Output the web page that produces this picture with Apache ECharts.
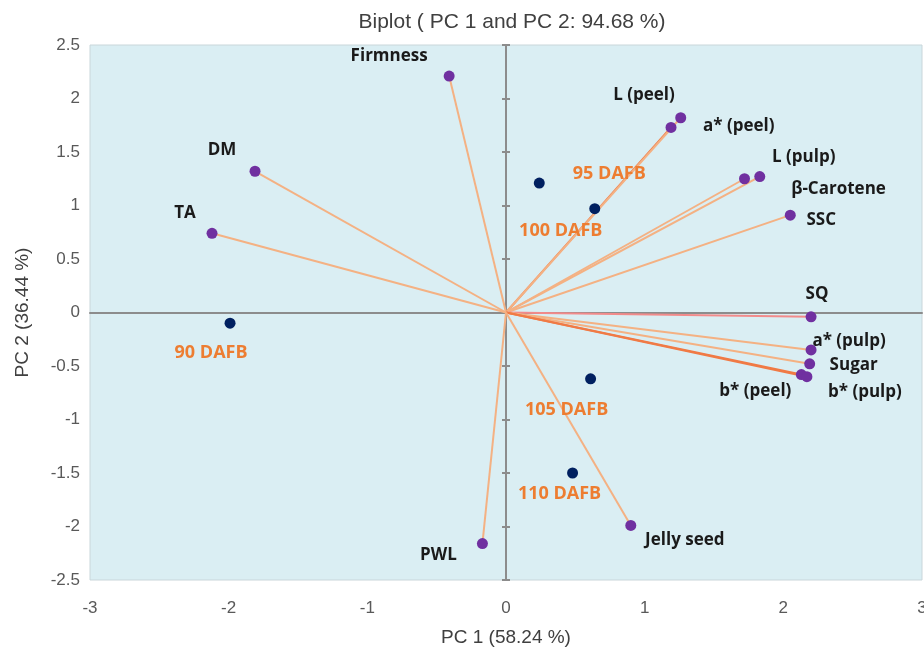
<!DOCTYPE html>
<html>
<head>
<meta charset="utf-8">
<script src="https://cdn.jsdelivr.net/npm/echarts@6/dist/echarts.min.js"></script>
<style>
	html, body { margin: 0; padding: 0; background: #ffffff; }
	#chart { width: 924px; height: 658px; }
</style>
</head>
<body>
<div id="chart"></div>
<script>
// variables (loadings)
var varNames = ['Firmness', 'L (peel)', 'a* (peel)', 'L (pulp)', 'β-Carotene', 'SSC', 'SQ', 'a* (pulp)', 'Sugar', 'b* (peel)', 'b* (pulp)', 'DM', 'TA', 'Jelly seed', 'PWL'];
var varX = [-0.41, 1.19, 1.26, 1.83, 1.72, 2.05, 2.20, 2.20, 2.19, 2.13, 2.17, -1.81, -2.12, 0.90, -0.17];
var varY = [2.21, 1.73, 1.82, 1.27, 1.25, 0.91, -0.04, -0.35, -0.48, -0.58, -0.60, 1.32, 0.74, -1.99, -2.16];

// observations (harvest stages)
var obsNames = ['90 DAFB', '95 DAFB', '100 DAFB', '105 DAFB', '110 DAFB'];
var obsX = [-1.99, 0.24, 0.64, 0.61, 0.48];
var obsY = [-0.10, 1.21, 0.97, -0.62, -1.50];

var xTicks = { min: -3, max: 3, interval: 1 };
var yTicks = { min: -2.5, max: 2.5, interval: 0.5 };

// label placement (px offsets from the point centre)
var varLabelOffset = [[-60, -20], [-27, -32], [58, 8], [44, -19], [94, 10], [31, 5], [6, -23], [38, -9], [44, 1], [-46, 17], [58, 15], [-33, -21], [-27, -20], [54, 15], [-44, 12]];
var obsLabelOffset = [[-19, 30], [70, -9], [-34, 22], [-24, 31], [-13, 21]];

var lightArrow = '#f4b183';
var darkArrow = '#f07a45';
var varLineColors = [lightArrow, darkArrow, lightArrow, lightArrow, lightArrow, lightArrow, '#f28a8a', lightArrow, lightArrow, darkArrow, darkArrow, lightArrow, lightArrow, lightArrow, lightArrow];

var labelFont = 'Open Sans, DejaVu Sans, sans-serif';
var axisFont = 'Liberation Sans, sans-serif';

var echart = echarts.init(document.getElementById('chart'));

var series = [];

for (var i = 0; i < varNames.length; i++) {
	series.push({
		type: 'line',
		silent: true,
		symbol: 'none',
		z: 2,
		lineStyle: { width: 2, color: varLineColors[i] },
		data: [[0, 0], [varX[i], varY[i]]]
	});
}

var varData = [];
for (var j = 0; j < varNames.length; j++) {
	varData.push({
		name: varNames[j],
		value: [varX[j], varY[j]],
		label: { offset: varLabelOffset[j] }
	});
}

var obsData = [];
for (var k = 0; k < obsNames.length; k++) {
	obsData.push({
		name: obsNames[k],
		value: [obsX[k], obsY[k]],
		label: { offset: obsLabelOffset[k] }
	});
}

series.push({
	type: 'scatter',
	z: 4,
	symbolSize: 11,
	itemStyle: { color: '#7030a0', opacity: 1 },
	label: {
		show: true,
		position: 'inside',
		align: 'center',
		verticalAlign: 'middle',
		formatter: '{b}',
		color: '#1a1a1a',
		fontWeight: 'bold',
		fontSize: 17,
		fontFamily: labelFont
	},
	data: varData
});

series.push({
	type: 'scatter',
	z: 4,
	symbolSize: 11,
	itemStyle: { color: '#002060', opacity: 1 },
	label: {
		show: true,
		position: 'inside',
		align: 'center',
		verticalAlign: 'middle',
		formatter: '{b}',
		color: '#ed7d31',
		fontWeight: 'bold',
		fontSize: 18,
		fontFamily: labelFont
	},
	data: obsData
});

var axisLabelStyle = {
	fontSize: 17,
	fontFamily: axisFont,
	color: '#595959'
};

var option = {
	animation: false,
	backgroundColor: '#ffffff',
	title: {
		text: 'Biplot ( PC 1 and PC 2: 94.68 %)',
		left: 507,
		top: 7,
		textAlign: 'center',
		textStyle: {
			fontSize: 21,
			fontWeight: 'normal',
			fontFamily: axisFont,
			color: '#404040'
		}
	},
	grid: {
		left: 90,
		right: 2,
		top: 45,
		bottom: 78,
		outerBoundsMode: 'none',
		containLabel: false,
		show: true,
		backgroundColor: '#daeef3',
		borderColor: '#c9d6da',
		borderWidth: 1
	},
	xAxis: [
		{
			type: 'value',
			min: xTicks.min,
			max: xTicks.max,
			interval: xTicks.interval,
			position: 'bottom',
			name: 'PC 1 (58.24 %)',
			nameLocation: 'middle',
			nameGap: 48,
			nameTextStyle: { fontSize: 19, fontFamily: axisFont, color: '#404040' },
			axisLine: { show: false, onZero: false },
			axisTick: { show: false },
			splitLine: { show: false },
			axisLabel: Object.assign({ margin: 20 }, axisLabelStyle)
		},
		{
			type: 'value',
			min: xTicks.min,
			max: xTicks.max,
			interval: xTicks.interval,
			axisLine: { show: true, onZero: true, onZeroAxisIndex: 0, lineStyle: { color: '#8c8c8c', width: 2 } },
			axisTick: { show: false },
			splitLine: { show: false },
			axisLabel: { show: false }
		}
	],
	yAxis: [
		{
			type: 'value',
			min: yTicks.min,
			max: yTicks.max,
			interval: yTicks.interval,
			position: 'left',
			name: 'PC 2 (36.44 %)',
			nameLocation: 'middle',
			nameGap: 58,
			nameTextStyle: { fontSize: 19, fontFamily: axisFont, color: '#404040' },
			axisLine: { show: false, onZero: false },
			axisTick: { show: false },
			splitLine: { show: false },
			axisLabel: Object.assign({ margin: 10 }, axisLabelStyle)
		},
		{
			type: 'value',
			min: yTicks.min,
			max: yTicks.max,
			interval: yTicks.interval,
			position: 'left',
			axisLine: { show: true, onZero: true, onZeroAxisIndex: 0, lineStyle: { color: '#8c8c8c', width: 2 } },
			axisTick: { show: true, length: 4, lineStyle: { color: '#8c8c8c', width: 2 } },
			splitLine: { show: false },
			axisLabel: { show: false }
		},
		{
			type: 'value',
			min: yTicks.min,
			max: yTicks.max,
			interval: yTicks.interval,
			position: 'right',
			axisLine: { show: true, onZero: true, onZeroAxisIndex: 0, lineStyle: { color: '#8c8c8c', width: 2 } },
			axisTick: { show: true, length: 4, lineStyle: { color: '#8c8c8c', width: 2 } },
			splitLine: { show: false },
			axisLabel: { show: false }
		}
	],
	series: series
};

echart.setOption(option);
</script>
</body>
</html>
